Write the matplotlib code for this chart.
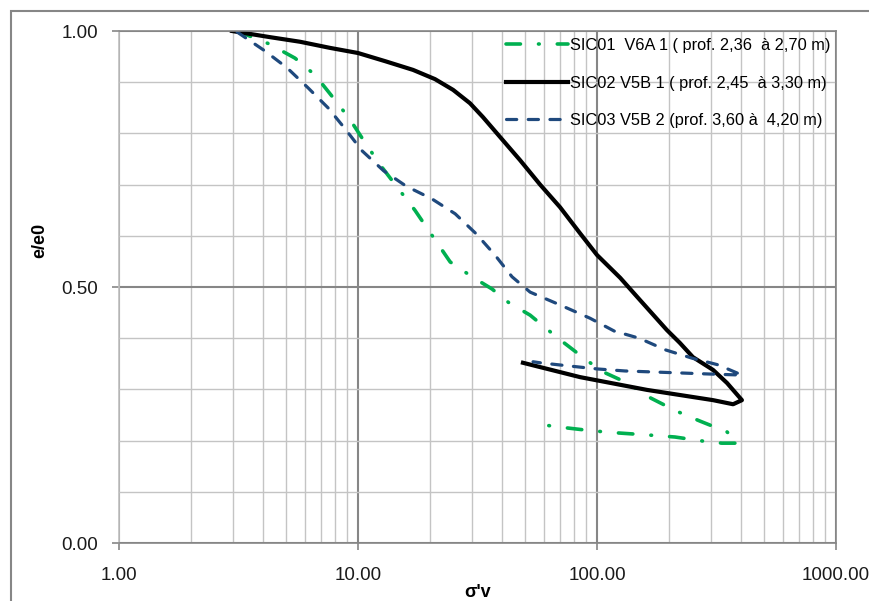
import matplotlib.pyplot as plt
from matplotlib.patches import Rectangle
from matplotlib.ticker import FixedLocator, LogLocator, NullFormatter

plt.rcParams['font.family'] = ['Liberation Sans', 'DejaVu Sans']

# SIC01 V6A 1 (green, dash-dot)
x_sic01 = [3.12, 4.24, 5.45, 6.61, 7.71, 9.17, 10.6, 12.4, 14.7, 17.3, 20.6, 24.3,
           30.0, 36.4, 42.6, 52.5, 68.7, 84.9, 104, 134, 168, 214, 270, 350, 389,
           333, 278, 212, 163, 122, 96, 74, 56.6]
y_sic01 = [1.0, 0.975, 0.947, 0.914, 0.875, 0.830, 0.785, 0.738, 0.693, 0.650, 0.598, 0.549,
           0.52, 0.496, 0.47, 0.445, 0.40, 0.367, 0.336, 0.3125, 0.283, 0.258, 0.238, 0.217, 0.195,
           0.195, 0.199, 0.207, 0.211, 0.215, 0.219, 0.225, 0.232]

# SIC02 V5B 1 (black, solid)
x_sic02 = [2.97, 4.28, 5.72, 7.64, 10.0, 13.0, 17.0, 21.0, 25.0, 29.4, 33.3, 39.3, 47.6,
           57.8, 70, 84.9, 100, 125, 151, 196, 222, 252, 306, 350, 404,
           371, 306, 162, 84.9, 49]
y_sic02 = [1.0, 0.988, 0.979, 0.967, 0.957, 0.941, 0.924, 0.906, 0.885, 0.859, 0.832, 0.793, 0.748,
           0.700, 0.656, 0.605, 0.5625, 0.518, 0.475, 0.416, 0.391, 0.363, 0.338, 0.3125, 0.279,
           0.271, 0.279, 0.299, 0.324, 0.352]

# SIC03 V5B 2 (blue, dashed)
x_sic03 = [3.12, 4.08, 5.05, 6.18, 7.49, 8.83, 10.4, 12.8, 15.9, 20.4, 25.5, 31.2, 37.4,
           44.1, 52.5, 70, 93.5, 118, 150, 194, 250, 321, 404,
           297, 227, 173, 131, 100, 75.6, 57.8, 54]
y_sic03 = [0.998, 0.961, 0.928, 0.889, 0.850, 0.809, 0.766, 0.727, 0.697, 0.672, 0.643, 0.604, 0.5625,
           0.52, 0.490, 0.465, 0.439, 0.414, 0.400, 0.377, 0.361, 0.348, 0.328,
           0.330, 0.332, 0.334, 0.336, 0.340, 0.346, 0.352, 0.354]

labels = ['SIC01  V6A 1 ( prof. 2,36  à 2,70 m)',
          'SIC02 V5B 1 ( prof. 2,45  à 3,30 m)',
          'SIC03 V5B 2 (prof. 3,60 à  4,20 m)']

x_ticks = [1, 10, 100, 1000]
x_ticklabels = ['1.00', '10.00', '100.00', '1000.00']
y_ticks = [0.0, 0.5, 1.0]
y_ticklabels = ['0.00', '0.50', '1.00']

fig = plt.figure(figsize=(8.7, 6.01), dpi=100)
ax = fig.add_axes([119/870, 1-543/601, (836-119)/870, (543-31)/601])

# chart border (cropped on right/bottom like the original)
fig.patches.append(Rectangle((11/870, -0.05), 1.0, 1-11/601+0.05, transform=fig.transFigure,
                             fill=False, edgecolor='#868686', linewidth=1.5))

ax.set_xscale('log')
ax.set_xlim(1, 1000)
ax.set_ylim(0, 1)

ax.xaxis.set_major_locator(FixedLocator(x_ticks))
ax.set_xticklabels(x_ticklabels)
ax.xaxis.set_minor_locator(LogLocator(base=10, subs=range(2, 10)))
ax.xaxis.set_minor_formatter(NullFormatter())
ax.yaxis.set_major_locator(FixedLocator(y_ticks))
ax.set_yticklabels(y_ticklabels)
ax.yaxis.set_minor_locator(FixedLocator([0.1, 0.2, 0.3, 0.4, 0.6, 0.7, 0.8, 0.9]))

ax.grid(True, which='major', color='#868686', linewidth=1.5)
ax.grid(True, which='minor', color='#c4c4c4', linewidth=1.0)
ax.set_axisbelow(True)

ax.tick_params(which='major', direction='out', length=5, width=1.2, color='#868686',
               labelsize=13.5, labelcolor='#1a1a1a')
ax.tick_params(axis='x', which='major', pad=12)
ax.tick_params(axis='y', which='major', pad=10)
ax.tick_params(which='minor', length=0)
for s in ['top', 'right', 'bottom']:
    ax.spines[s].set_color('#868686')
    ax.spines[s].set_linewidth(1.2)
ax.spines['left'].set_color('#bfbfbf')
ax.spines['left'].set_linewidth(1.2)

ax.plot(x_sic01, y_sic01, color='#00b050', linewidth=2.6,
        linestyle=(0, (4.0, 5.0, 0.2, 5.0)), dash_capstyle='round', label=labels[0])
ax.plot(x_sic02, y_sic02, color='black', linewidth=3.0, label=labels[1])
ax.plot(x_sic03, y_sic03, color='#1f497d', linewidth=2.3,
        linestyle=(0, (3.2, 3.6)), dash_capstyle='round', label=labels[2])

ax.set_xlabel("σ'v", fontsize=13, fontweight='bold', labelpad=0)
ax.set_ylabel('e/e0', fontsize=13, fontweight='bold')
ax.yaxis.set_label_coords(-71/717, (543-240)/512)

ax.legend(loc='upper left', bbox_to_anchor=(506/870, 1-38/601), bbox_transform=fig.transFigure,
          frameon=False, fontsize=11.8, handlelength=3.8, handletextpad=0.1,
          labelspacing=1.38, borderpad=0, borderaxespad=0)

fig.savefig('out.png', dpi=100)
